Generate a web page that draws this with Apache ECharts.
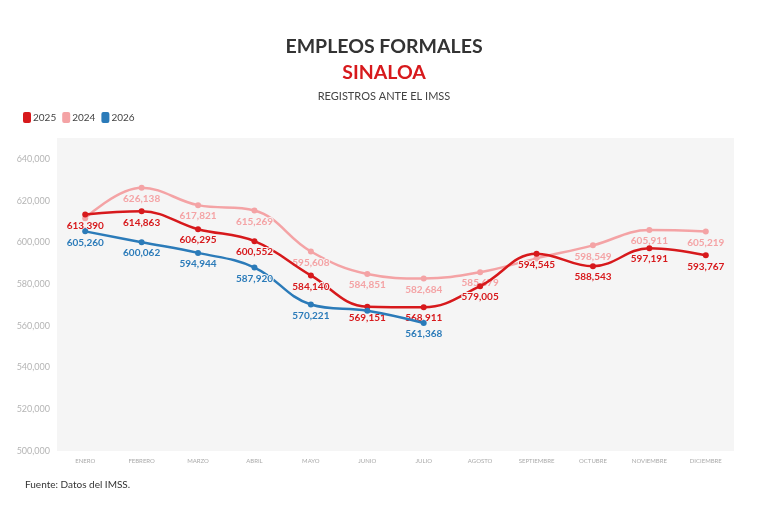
<!DOCTYPE html>
<html>
<head>
<meta charset="utf-8">
<script src="https://cdn.jsdelivr.net/npm/echarts@6/dist/echarts.min.js"></script>
<style>
  html,body{margin:0;padding:0;background:#fff;}
  #main{width:768px;height:512px;}
</style>
</head>
<body>
<div id="main"></div>
<script>
// meses
var meses = ['ENERO','FEBRERO','MARZO','ABRIL','MAYO','JUNIO','JULIO','AGOSTO','SEPTIEMBRE','OCTUBRE','NOVIEMBRE','DICIEMBRE'];
// registros por año
var datos2025 = [613390, 614863, 606295, 600552, 584140, 569151, 568911, 579005, 594545, 588543, 597191, 593767];
var datos2024 = [611600, 626138, 617821, 615269, 595608, 584851, 582684, 585679, 592300, 598549, 605911, 605219];
var datos2026 = [605260, 600062, 594944, 587920, 570221, 567200, 561368];
// puntos sin etiqueta (se enciman en el original)
var ocultar2024 = [0, 8];
var ocultar2026 = [5];

var fuente = 'Lato, "Noto Sans", sans-serif';
var fondo = '#f5f5f5';

function conEtiquetas(arr, ocultos){
	return arr.map(function(v, i){
		if(ocultos.indexOf(i) > -1){
			return {value: v, label: {show: false}};
		}
		return v;
	});
}

function serie(nombre, color, data, z){
	return {
		name: nombre,
		type: 'line',
		smooth: 0.4,
		z: z,
		data: data,
		symbol: 'circle',
		symbolSize: 6,
		lineStyle: {width: 2.5, color: color},
		itemStyle: {color: color},
		label: {
			show: true,
			position: 'bottom',
			distance: 3,
			color: color,
			fontFamily: fuente,
			fontWeight: 'bold',
			fontSize: 10,
			textBorderColor: fondo,
			textBorderWidth: 2,
			formatter: function(p){ return p.value.toLocaleString('en-US'); }
		}
	};
}

var myChart = echarts.init(document.getElementById('main'));
var option = {
	backgroundColor: '#fff',
	animation: false,
	title: [{
		text: 'EMPLEOS FORMALES',
		left: 'center', top: 32,
		textStyle: {fontFamily: fuente, fontWeight: 'bold', fontSize: 19.5, color: '#333'}
	},{
		text: 'SINALOA',
		left: 'center', top: 58,
		textStyle: {fontFamily: fuente, fontWeight: 'bold', fontSize: 19.5, color: '#d7191c'}
	},{
		text: 'REGISTROS ANTE EL IMSS',
		left: 'center', top: 86,
		textStyle: {fontFamily: fuente, fontWeight: 'normal', fontSize: 11, color: '#444'}
	},{
		text: 'Fuente: Datos del IMSS.',
		left: 20, top: 475,
		textStyle: {fontFamily: fuente, fontWeight: 'normal', fontSize: 10, color: '#333'}
	}],
	legend: {
		left: 18, top: 107,
		itemWidth: 8, itemHeight: 11, itemGap: 6,
		icon: 'roundRect',
		textStyle: {fontFamily: fuente, fontSize: 10, color: '#444', padding: [0, 0, 0, -3]},
		data: ['2025', '2024', '2026']
	},
	grid: {
		left: 57, right: 34, top: 138, bottom: 61,
		show: true, backgroundColor: fondo, borderWidth: 0
	},
	xAxis: {
		type: 'category',
		data: meses,
		boundaryGap: true,
		axisLine: {show: false},
		axisTick: {show: false},
		axisLabel: {fontFamily: fuente, fontSize: 6, color: '#aaa', margin: 7}
	},
	yAxis: {
		type: 'value',
		min: 500000, max: 650000, interval: 20000,
		splitLine: {show: false},
		axisLine: {show: false},
		axisTick: {show: false},
		axisLabel: {
			showMaxLabel: false,
			fontFamily: fuente, fontSize: 9, color: '#b5b5b5', margin: 7,
			formatter: function(v){ return v % 20000 === 0 ? v.toLocaleString('en-US') : ''; }
		}
	},
	series: [
		serie('2024', '#f4a3a5', conEtiquetas(datos2024, ocultar2024), 2),
		serie('2025', '#d7191c', datos2025, 3),
		serie('2026', '#2b7bb9', conEtiquetas(datos2026, ocultar2026), 4)
	]
};
myChart.setOption(option);
</script>
</body>
</html>
